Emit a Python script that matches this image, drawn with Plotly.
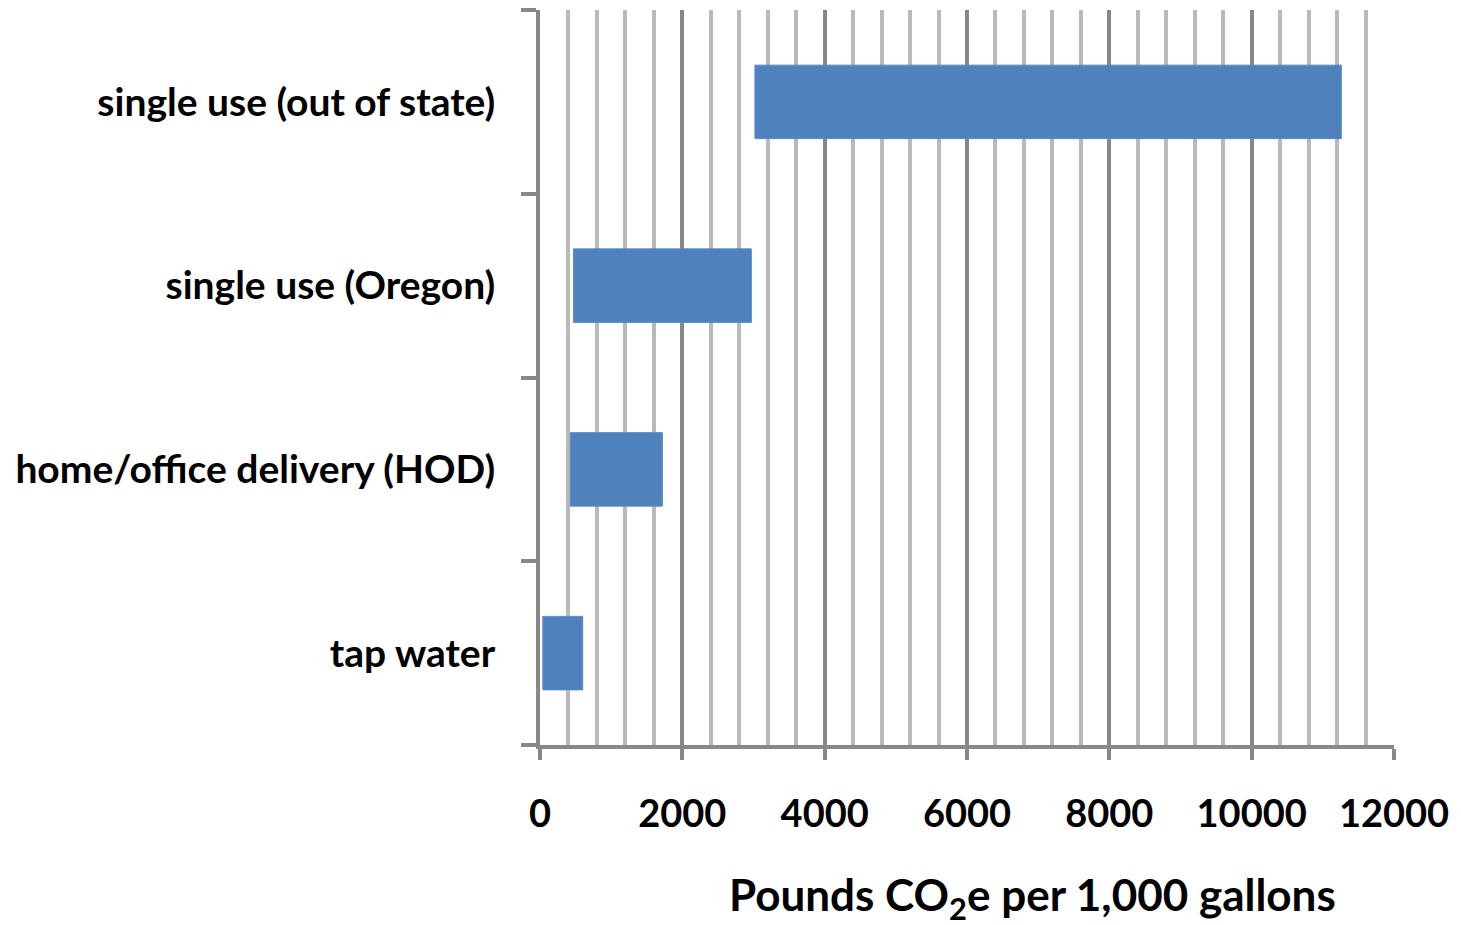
import plotly.graph_objects as go

categories = ["tap water", "home/office delivery (HOD)", "single use (Oregon)", "single use (out of state)"]
low_values = [40, 425, 470, 3020]
high_values = [600, 1720, 2970, 11260]
x_tick_values = [0, 2000, 4000, 6000, 8000, 10000, 12000]
x_title = "Pounds CO<sub>2</sub>e per 1,000 gallons"

FONT = "Lato"
fig = go.Figure()
fig.add_trace(go.Bar(
    y=categories,
    x=[h - l for l, h in zip(low_values, high_values)],
    base=low_values,
    orientation="h",
    width=0.4,
    marker=dict(color="#4f81bd", line=dict(color="#5a8cc8", width=1)),
    showlegend=False,
))

# page body has an 8px default margin, so the figure is sized to fit the window
fig.update_layout(
    width=1453, height=917,
    margin=dict(l=532, r=67, t=2, b=180),
    plot_bgcolor="white", paper_bgcolor="white",
    font=dict(family=FONT, color="black"),
    bargap=0.6,
)
fig.update_xaxes(
    range=[0, 12000],
    tickvals=x_tick_values,
    ticktext=[str(v) for v in x_tick_values],
    tickfont=dict(family=FONT, size=38, color="black", weight="bold"),
    showgrid=True, gridcolor="#888888", gridwidth=4,
    minor=dict(dtick=400, tick0=0, showgrid=True, gridcolor="#b9b9b9", gridwidth=3.5, ticks=""),
    showline=True, linecolor="#888888", linewidth=4,
    ticks="outside", ticklen=11, tickwidth=4, tickcolor="#888888",
    ticklabelstandoff=21,
    zeroline=False,
)
fig.update_yaxes(
    type="category",
    categoryorder="array", categoryarray=categories,
    range=[-0.5, 3.5],
    tickfont=dict(family=FONT, size=39, color="black", weight="bold"),
    showgrid=False,
    showline=True, linecolor="#888888", linewidth=4,
    ticks="outside", ticklen=15, tickwidth=4, tickcolor="#888888",
    tickson="boundaries",
    ticklabelstandoff=33,
    zeroline=False,
)
fig.add_annotation(
    text=x_title, xref="paper", yref="paper", x=0.577, y=-0.208,
    showarrow=False, xanchor="center", yanchor="middle",
    font=dict(family=FONT, size=44, color="black", weight="bold"),
)
fig.write_html("out.html")
